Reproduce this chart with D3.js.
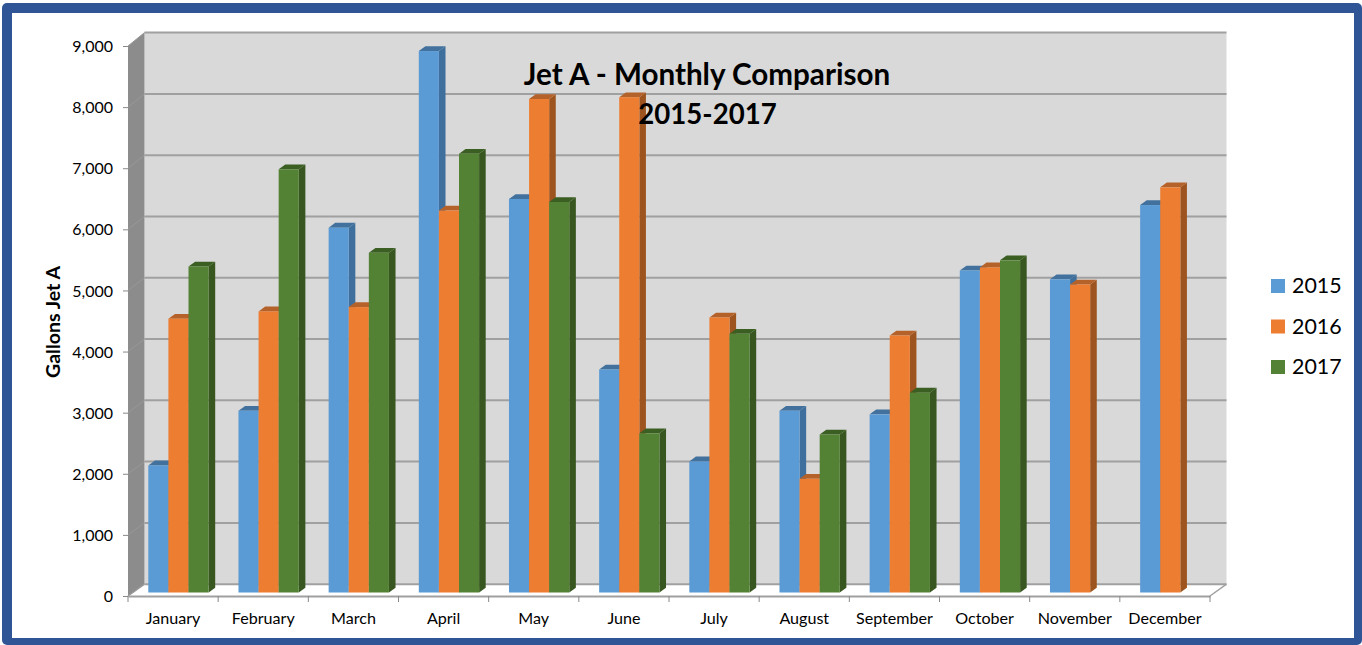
<!DOCTYPE html>
<html><head><meta charset="utf-8">
<script src="https://cdn.jsdelivr.net/npm/d3@7"></script>
<style>html,body{margin:0;padding:0;background:#fff;overflow:hidden}svg{display:block}text{font-family:Lato,"Open Sans",sans-serif;fill:#000}</style>
</head><body><svg id="c" width="1362" height="645"></svg>
<script>
const months=["January","February","March","April","May","June","July","August","September","October","November","December"];
const seriesNames=["2015","2016","2017"];
const values2015=[2080,2975,5970,8860,6440,3650,2145,2975,2915,5270,5125,6340];
const values2016=[4480,4600,4670,6250,8075,8105,4500,1860,4205,5320,5040,6630];
const values2017=[5335,6925,5560,7180,6390,2605,4235,2585,3270,5435,null,null];
const colors=["#5B9BD5","#ED7D31","#548235"];
const sideColors=["#3F6F9C","#9E541E","#38561F"];
const topColors=["#41719C","#B5622A","#3B5E23"];
const yTicks=[0,1000,2000,3000,4000,5000,6000,7000,8000,9000];

const svg=d3.select("#c");
const W=1362,H=645;
svg.append("rect").attr("x",2).attr("y",3).attr("width",W-2).attr("height",H-3).attr("rx",5).attr("fill","#2F5597");
svg.append("rect").attr("x",12).attr("y",13).attr("width",1342).attr("height",625).attr("fill","#fff");

const dx=16.5;
const x=d3.scaleBand().domain(months).range([128,1210]);
const y=d3.scaleLinear().domain([0,9000]).range([596,46]);
const yBack=d3.scaleLinear().domain([0,9000]).range([584.2,32.6]);
const gWall=svg.append("g");
gWall.append("rect").attr("x",128+dx).attr("y",yBack(9000))
  .attr("width",1210-128).attr("height",yBack(0)-yBack(9000)).attr("fill","#D9D9D9");
gWall.append("polygon").attr("fill","#8C8C8C")
  .attr("points",[[128,y(0)],[128+dx,yBack(0)],[128+dx,yBack(9000)],[128,y(9000)]].join(" "));
gWall.append("polygon").attr("fill","#fff")
  .attr("points",[[128,y(0)],[1210,y(0)],[1210+dx,yBack(0)],[128+dx,yBack(0)]].join(" "));
yTicks.forEach(t=>{
  gWall.append("line").attr("x1",128+dx).attr("x2",1210+dx).attr("y1",yBack(t)).attr("y2",yBack(t))
    .attr("stroke","#A0A0A0").attr("stroke-width",2);
  gWall.append("line").attr("x1",128).attr("x2",128+dx).attr("y1",y(t)).attr("y2",yBack(t))
    .attr("stroke","#989898").attr("stroke-width",t===0?1.5:1);
});
gWall.append("line").attr("x1",1210).attr("x2",1210+dx).attr("y1",y(0)).attr("y2",yBack(0))
  .attr("stroke","#A0A0A0").attr("stroke-width",1.5);

const axL=d3.axisLeft(y).tickValues(yTicks).tickSize(5).tickSizeOuter(0).tickFormat(d3.format(","));
const gL=svg.append("g").attr("transform","translate(128,0)").call(axL);
gL.select(".domain").remove();
gL.selectAll("line").attr("stroke","#888");
gL.selectAll("text").attr("font-size",16).attr("x",-15).attr("dy","0.35em");
const axB=d3.axisBottom(x).tickSize(0);
const gB=svg.append("g").attr("transform","translate(0,596)").call(axB);
gB.select(".domain").attr("stroke","#A0A0A0").attr("stroke-width",2);
gB.selectAll("text").attr("font-size",16.1).attr("y",17).attr("dy","0.71em");
svg.selectAll(".bt").data(months.concat(["end"])).enter().append("line")
  .attr("x1",(d,i)=>128+i*x.step()).attr("x2",(d,i)=>128+i*x.step())
  .attr("y1",596).attr("y2",602).attr("stroke","#888");

const barW=20.1, barBase=592.5, barOff=20.3, sdx=6.6, sdy=-4.8;
const h=d3.scaleLinear().domain([0,9000]).range([0,550]);
const allSeries=[values2015,values2016,values2017];
const gBars=svg.append("g");
months.forEach((m,mi)=>{
  allSeries.forEach((vals,si)=>{
    const v=vals[mi]; if(v==null) return;
    const x0=x(m)+barOff+si*barW, top=barBase-h(v);
    const g=gBars.append("g").datum(v);
    g.append("polygon").attr("fill",sideColors[si])
      .attr("points",[[x0+barW,barBase],[x0+barW+sdx,barBase+sdy],[x0+barW+sdx,top+sdy],[x0+barW,top]].join(" "));
    g.append("polygon").attr("fill",topColors[si])
      .attr("points",[[x0,top],[x0+sdx,top+sdy],[x0+barW+sdx,top+sdy],[x0+barW,top]].join(" "));
    g.append("rect").attr("x",x0).attr("y",top).attr("width",barW).attr("height",h(v)).attr("fill",colors[si]);
  });
});

svg.append("text").attr("x",707).attr("y",85).attr("text-anchor","middle").attr("font-size",29.6).attr("font-weight",700).text("Jet A - Monthly Comparison");
svg.append("text").attr("x",707.5).attr("y",123.5).attr("text-anchor","middle").attr("font-size",27.6).attr("font-weight",700).text("2015-2017");
svg.append("text").attr("transform","translate(60,322) rotate(-90)").attr("text-anchor","middle").attr("font-size",19.5).attr("font-weight",700).text("Gallons Jet A");
const lg=svg.append("g").selectAll("g").data(seriesNames).enter().append("g")
  .attr("transform",(d,i)=>`translate(1271,${279+i*40.5})`);
lg.append("rect").attr("width",14).attr("height",14).attr("fill",(d,i)=>colors[i]);
lg.append("text").attr("x",21).attr("y",14).attr("font-size",21.4).text(d=>d);
</script></body></html>
